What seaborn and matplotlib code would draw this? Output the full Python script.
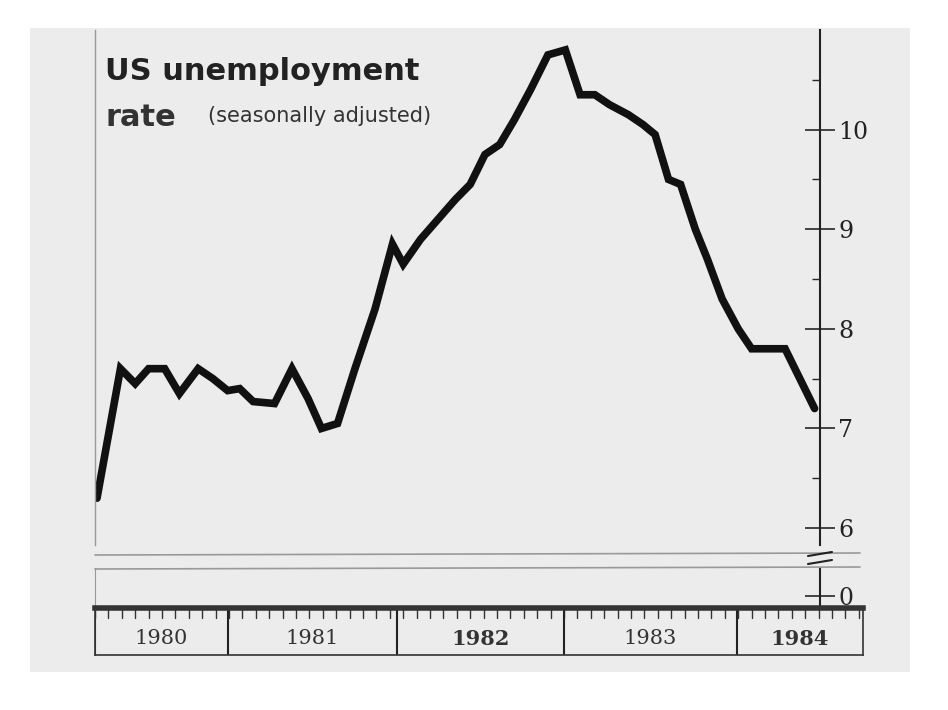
import matplotlib
matplotlib.use("Agg")
import matplotlib.pyplot as plt
import seaborn as sns
import pandas as pd
from matplotlib.patches import Rectangle

months = [0.15,1.9,3,4,5.2,6.3,7.7,8.8,9.9,10.8,11.8,13.4,14.7,15.9,16.9,18.1,19.4,20.9,22.2,23,
          24.3,25.6,26.9,28,29.1,30.2,31.3,32.5,33.8,35.1,36.2,37.3,38.4,39.8,40.9,41.8,42.8,43.7,
          44.8,45.7,46.8,48,49,50.2,51.5,52.6,53.7]
rate = [6.3,7.6,7.45,7.6,7.6,7.35,7.6,7.5,7.38,7.4,7.27,7.25,7.6,7.3,7.0,7.05,7.6,8.2,8.85,8.65,
        8.9,9.1,9.3,9.45,9.75,9.85,10.1,10.4,10.75,10.8,10.35,10.35,10.25,10.15,10.05,9.95,9.5,9.45,
        9.0,8.7,8.3,8.0,7.8,7.8,7.8,7.5,7.2]
years = ["1980","1981","1982","1983","1984"]
year_bounds = [0, 9.9, 22.5, 35.0, 47.9, 57.3]
yticks = [6,7,8,9,10]
df = pd.DataFrame({"m": months, "r": rate})

sns.set_style("white")
W, H = 948, 710
fig = plt.figure(figsize=(W/100, H/100), dpi=100)
fig.patch.set_facecolor("white")
def fx(px): return px/W
def fy(py): return 1-py/H
fig.add_artist(Rectangle((fx(30), fy(672)), fx(880), (672-28)/H, transform=fig.transFigure,
                         facecolor="#ececec", edgecolor="none", zorder=-10))

XMAX = (820-95)/13.4
ax = fig.add_axes([fx(95), fy(545), fx(725), (545-30)/H])
ax.set_facecolor("none")
sns.lineplot(data=df, x="m", y="r", ax=ax, color="#111111", linewidth=5.5, solid_joinstyle="miter")
ax.set_xlim(0, XMAX); ax.set_ylim(5.83, 11.0)
for s in ["top", "bottom"]: ax.spines[s].set_visible(False)
ax.spines["left"].set_color("#999999"); ax.spines["left"].set_linewidth(1)
ax.spines["right"].set_color("#222222"); ax.spines["right"].set_linewidth(1.5)
ax.yaxis.tick_right()
ax.set_yticks(yticks)
ax.set_yticklabels([str(v) for v in yticks], fontsize=17, family="DejaVu Serif", color="#222222")
ax.set_yticks([6.5, 7.5, 8.5, 9.5, 10.5], minor=True)
ax.tick_params(axis="y", which="major", direction="inout", length=22, width=1.2, pad=2)
ax.tick_params(axis="y", which="minor", direction="in", length=6, width=1)
ax.set_xticks([]); ax.set_xlabel(""); ax.set_ylabel("")

fig.add_artist(plt.Line2D([fx(95), fx(860)], [fy(555), fy(553)], color="#999999", lw=1.2))
fig.add_artist(plt.Line2D([fx(95), fx(860)], [fy(569), fy(567)], color="#999999", lw=1.2))
fig.add_artist(plt.Line2D([fx(808), fx(832)], [fy(556), fy(552)], color="#222222", lw=1.5))
fig.add_artist(plt.Line2D([fx(808), fx(832)], [fy(564), fy(560)], color="#222222", lw=1.5))

ax0 = fig.add_axes([fx(95), fy(605), fx(725), (605-568)/H])
ax0.set_facecolor("none")
ax0.set_xlim(0, XMAX); ax0.set_ylim(-0.3, 1)
for s in ["top", "bottom"]: ax0.spines[s].set_visible(False)
ax0.spines["left"].set_color("#999999")
ax0.spines["right"].set_color("#222222"); ax0.spines["right"].set_linewidth(1.5)
ax0.yaxis.tick_right(); ax0.set_yticks([0]); ax0.set_yticklabels(["0"], fontsize=17, family="DejaVu Serif")
ax0.tick_params(axis="y", direction="inout", length=22, width=1.2, pad=2)
ax0.set_xticks([])

axr = fig.add_axes([fx(95), fy(655), fx(768), (655-608)/H])
axr.set_facecolor("none")
axr.set_xlim(0, (863-95)/13.4); axr.set_ylim(0, 1)
for s in axr.spines.values(): s.set_color("#333333"); s.set_linewidth(1.2)
axr.spines["top"].set_linewidth(4)
axr.set_xticks([]); axr.set_yticks([])
for i in range(0, 58):
    axr.plot([i, i], [1, 0.78], color="#333333", lw=1)
for i, y in enumerate(years):
    axr.plot([year_bounds[i]]*2, [1, 0], color="#222222", lw=1.5)
    c = (year_bounds[i] + year_bounds[i+1]) / 2
    axr.text(c, 0.35, y, ha="center", va="center", fontsize=15,
             family="DejaVu Serif", color="#333333", fontweight="bold" if i in (2, 4) else "normal")

fig.text(fx(105), fy(72), "US unemployment", fontsize=22, fontweight="heavy", color="#222222", va="center")
fig.text(fx(105), fy(118), "rate", fontsize=22, fontweight="heavy", color="#333333", va="center")
fig.text(fx(208), fy(116), "(seasonally adjusted)", fontsize=15, color="#333333", va="center")

fig.savefig("out.png", dpi=100)
